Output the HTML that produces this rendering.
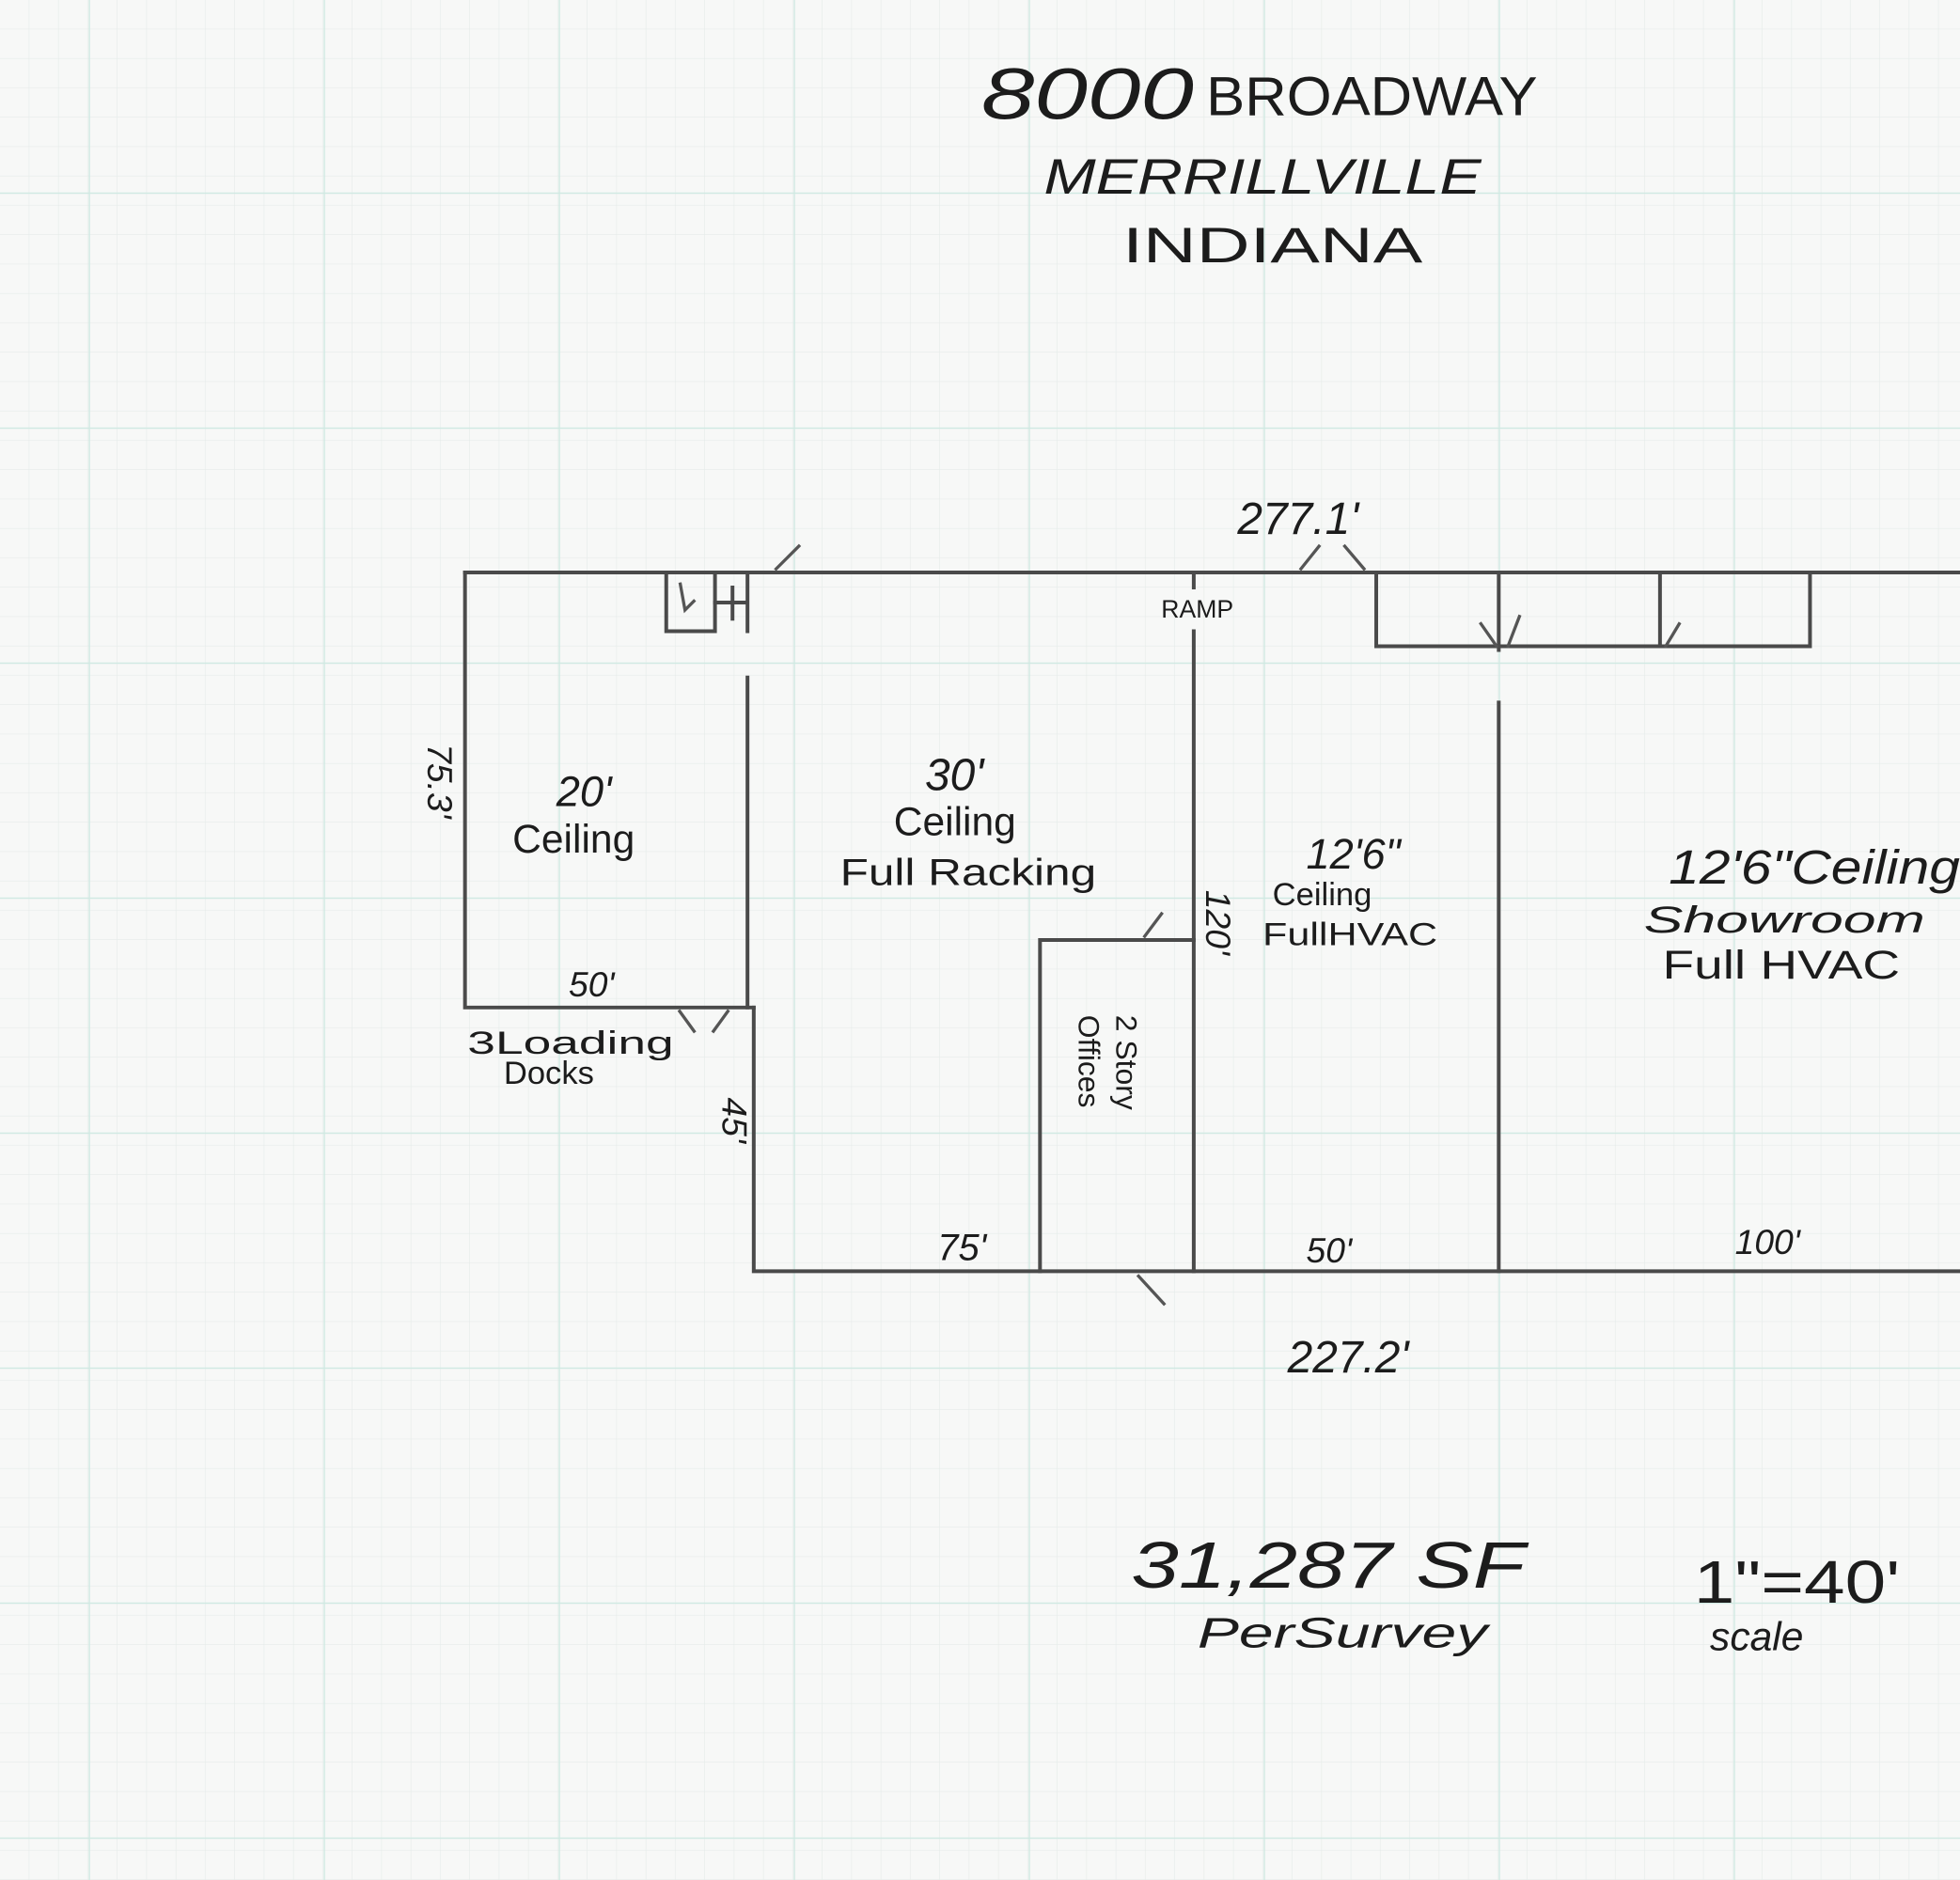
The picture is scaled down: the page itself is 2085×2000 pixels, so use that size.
<!DOCTYPE html>
<html><head><meta charset="utf-8"><style>
html,body{margin:0;padding:0;background:#f7f8f7;}
svg{display:block}
text{font-family:"Liberation Sans",sans-serif;fill:#1c1c1c;}
</style></head><body>
<svg width="2085" height="2000" viewBox="0 0 1568 1504" preserveAspectRatio="none" xmlns="http://www.w3.org/2000/svg">
<defs>
<pattern id="minor" x="0" y="0" width="23.5" height="23.5" patternUnits="userSpaceOnUse">
<path d="M23.5 0V23.5M0 23.5H23.5" stroke="#e6ecea" stroke-width="1" fill="none"/>
</pattern>
<pattern id="major" x="71" y="154" width="188" height="188" patternUnits="userSpaceOnUse">
<path d="M0 0V188M0 0H188" stroke="#cfe9e2" stroke-width="2" fill="none"/>
</pattern>
</defs>
<rect width="1568" height="1504" fill="#f7f8f7"/>
<rect width="1568" height="1504" fill="url(#minor)"/>
<rect width="1568" height="1504" fill="url(#major)"/>

<g stroke="#4a4a4a" stroke-width="3" fill="none" stroke-linecap="square">
<path d="M372 458H1568"/>
<path d="M372 458V806H603"/>
<path d="M598 458V505M598 542V806"/>
<path d="M603 806V1017H1568"/>
<path d="M533 458V505H572V458"/>
<path d="M572 482H596M586 470V495"/>
<path d="M955 458V470M955 505V1017"/>
<path d="M832 1017V752H955"/>
<path d="M1199 458V520M1199 562V1017"/>
<path d="M1101 458V517H1448V458"/>
<path d="M1328 458V517"/>
</g>
<g stroke="#555" stroke-width="2.5" fill="none">
<path d="M620 456L640 436"/>
<path d="M1040 456L1056 436M1092 456L1075 436"/>
<path d="M1184 498L1198 518M1206 518L1216 492"/>
<path d="M1332 518L1344 498"/>
<path d="M915 750L930 730"/>
<path d="M543 808L556 826M570 826L583 808"/>
<path d="M910 1020L932 1044"/>
<path d="M544 466L548 488L556 480"/>
</g>

<text x="785" y="95" font-size="58" font-style="italic" textLength="170" lengthAdjust="spacingAndGlyphs">8000</text>
<text x="965" y="92" font-size="44" textLength="265" lengthAdjust="spacingAndGlyphs">BROADWAY</text>
<text x="835" y="155" font-size="40" font-style="italic" textLength="350" lengthAdjust="spacingAndGlyphs">MERRILLVILLE</text>
<text x="898" y="210" font-size="40" textLength="240" lengthAdjust="spacingAndGlyphs">INDIANA</text>

<text x="990" y="427" font-size="36" font-style="italic">277.1'</text>
<text x="929" y="494" font-size="20" fill="#555">RAMP</text>
<text x="445" y="645" font-size="34" font-style="italic">20'</text>
<text x="410" y="682" font-size="32">Ceiling</text>
<text x="740" y="632" font-size="36" font-style="italic">30'</text>
<text x="715" y="668" font-size="32">Ceiling</text>
<text x="672" y="708" font-size="30" textLength="205" lengthAdjust="spacingAndGlyphs">Full Racking</text>
<text x="1045" y="695" font-size="34" font-style="italic">12'6"</text>
<text x="1018" y="724" font-size="26">Ceiling</text>
<text x="1010" y="756" font-size="26" textLength="140" lengthAdjust="spacingAndGlyphs">FullHVAC</text>
<text x="1335" y="707" font-size="38" font-style="italic" textLength="233" lengthAdjust="spacingAndGlyphs">12'6"Ceiling</text>
<text x="1315" y="746" font-size="30" font-style="italic" textLength="225" lengthAdjust="spacingAndGlyphs">Showroom</text>
<text x="1330" y="783" font-size="32" textLength="190" lengthAdjust="spacingAndGlyphs">Full HVAC</text>
<text x="455" y="797" font-size="28" font-style="italic">50'</text>
<text x="374" y="843" font-size="26" textLength="165" lengthAdjust="spacingAndGlyphs">3Loading</text>
<text x="403" y="867" font-size="26">Docks</text>
<text x="750" y="1008" font-size="30" font-style="italic">75'</text>
<text x="1045" y="1010" font-size="28" font-style="italic">50'</text>
<text x="1388" y="1003" font-size="28" font-style="italic">100'</text>
<text x="1030" y="1098" font-size="36" font-style="italic">227.2'</text>
<text transform="translate(342 595) rotate(90)" font-size="28" font-style="italic">75.3'</text>
<text transform="translate(578 878) rotate(90)" font-size="28" font-style="italic">45'</text>
<text transform="translate(965 712) rotate(90)" font-size="28" font-style="italic">120'</text>
<text transform="translate(893 812) rotate(90)" font-size="24">2 Story</text>
<text transform="translate(863 812) rotate(90)" font-size="24">Offices</text>
<text x="905" y="1270" font-size="52" font-style="italic" textLength="315" lengthAdjust="spacingAndGlyphs">31,287 SF</text>
<text x="958" y="1318" font-size="34" font-style="italic" textLength="232" lengthAdjust="spacingAndGlyphs">PerSurvey</text>
<text x="1355" y="1282" font-size="48" textLength="165" lengthAdjust="spacingAndGlyphs">1"=40'</text>
<text x="1368" y="1320" font-size="32" font-style="italic">scale</text>
</svg>
</body></html>
